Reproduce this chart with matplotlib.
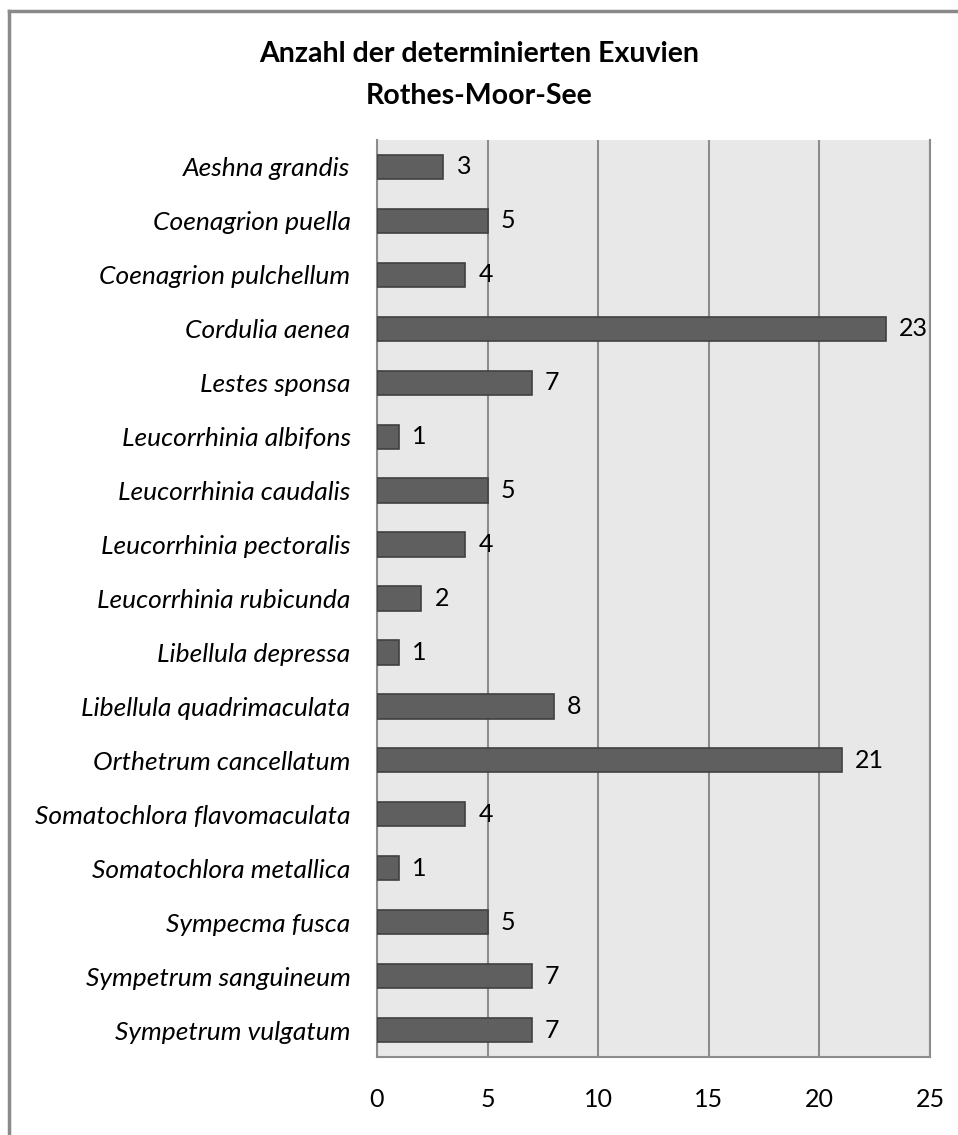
import matplotlib.pyplot as plt
from matplotlib.lines import Line2D

species = [
    "Aeshna grandis", "Coenagrion puella", "Coenagrion pulchellum",
    "Cordulia aenea", "Lestes sponsa", "Leucorrhinia albifons",
    "Leucorrhinia caudalis", "Leucorrhinia pectoralis",
    "Leucorrhinia rubicunda", "Libellula depressa",
    "Libellula quadrimaculata", "Orthetrum cancellatum",
    "Somatochlora flavomaculata", "Somatochlora metallica",
    "Sympecma fusca", "Sympetrum sanguineum", "Sympetrum vulgatum",
]
counts = [3, 5, 4, 23, 7, 1, 5, 4, 2, 1, 8, 21, 4, 1, 5, 7, 7]
xticks = [0, 5, 10, 15, 20, 25]

plt.rcParams['font.family'] = ['Lato', 'DejaVu Sans']

fig = plt.figure(figsize=(9.58, 11.35), dpi=100)
# outer chart frame: top and left edges (the rest runs off the image)
fx, fy = 0.0095, 0.9905
fig.add_artist(Line2D([fx, 1.0], [fy, fy], transform=fig.transFigure,
                      color='#8a8a8a', linewidth=2.5, zorder=10))
fig.add_artist(Line2D([fx, fx], [0.0, fy], transform=fig.transFigure,
                      color='#8a8a8a', linewidth=2.5, zorder=10))

ax = fig.add_axes([0.3935, 0.0687, 0.5773, 0.808])
ax.set_facecolor('#e8e8e8')

ypos = list(range(len(species)))
ax.barh(ypos, counts, height=0.45, color='#5f5f5f', edgecolor='#404040', linewidth=1.2, zorder=3)
for y, v in zip(ypos, counts):
    ax.text(v + 0.6, y, str(v), va='center', ha='left', fontsize=18, color='black')

ax.set_xlim(0, 25)
ax.set_ylim(len(species) - 0.5, -0.5)
ax.set_xticks(xticks)
ax.set_xticklabels([str(t) for t in xticks], fontsize=18)
ax.set_yticks(ypos)
ax.set_yticklabels(species, fontsize=19, style='italic')
ax.tick_params(axis='both', length=0)
ax.tick_params(axis='x', pad=22)
ax.tick_params(axis='y', pad=19)

ax.grid(axis='x', color='#8c8c8c', linewidth=1.5, zorder=1)
ax.set_axisbelow(True)
for side in ['left', 'bottom', 'right']:
    ax.spines[side].set_color('#8c8c8c')
    ax.spines[side].set_linewidth(1.5)
ax.spines['top'].set_visible(False)

fig.text(0.5, 0.934, "Anzahl der determinierten Exuvien\nRothes-Moor-See",
         ha='center', va='center', fontsize=20.5, fontweight='bold', linespacing=1.75)

fig.savefig("out.png", dpi=100)
